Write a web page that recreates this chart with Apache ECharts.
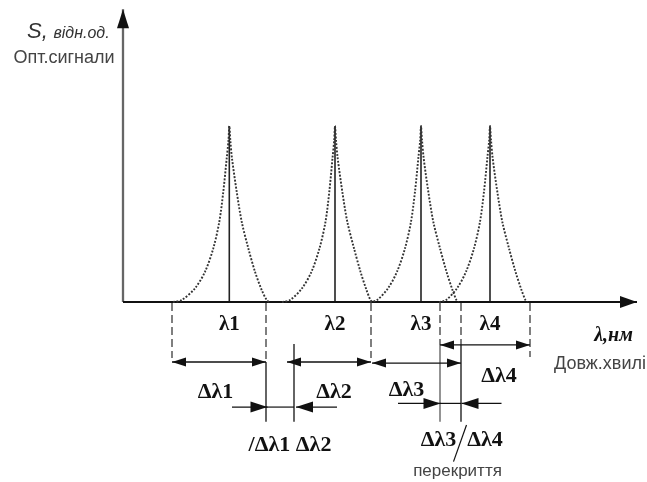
<!DOCTYPE html>
<html>
<head>
<meta charset="utf-8">
<script src="https://cdn.jsdelivr.net/npm/echarts@6/dist/echarts.min.js"></script>
<style>
html, body { margin: 0; padding: 0; background: #fff; }
#chart { width: 647px; height: 482px; }
</style>
</head>
<body>
<div id="chart"></div>
<script>
// x: wavelength (arb. units), y: relative signal (peak = 100)
const peakNames = ['λ1', 'λ2', 'λ3', 'λ4'];
const peakX = [21.26, 42.4, 59.6, 73.4];
const peakTop = 100;

// dotted spectra of the four channels
const spectrum1 = [[10.0,0],[11.74,1.1],[14.4,7.8],[16.4,17.2],[18.06,30.5],[19.26,45.6],[20.06,62.7],[20.74,81.6],[21.1,92],[21.26,100],
  [21.46,92],[21.8,81.6],[22.74,62.7],[23.74,45.6],[25.06,30.5],[26.4,17.2],[27.74,6.8],[28.74,1.1],[29.2,0]];
const spectrum2 = [[31.8,0],[33.4,1.1],[35.8,7.8],[37.7,17.2],[39.3,30.5],[40.5,45.6],[41.26,62.7],[41.9,81.6],[42.24,92],[42.4,100],
  [42.6,92],[42.94,81.6],[43.86,62.7],[44.86,45.6],[46.2,30.5],[47.5,17.2],[48.7,6.8],[49.5,1.1],[49.9,0]];
const spectrum3 = [[49.4,0],[50.8,1.1],[53.0,7.8],[54.8,17.2],[56.4,30.5],[57.6,45.6],[58.4,62.7],[59.06,81.6],[59.44,92],[59.6,100],
  [59.8,92],[60.14,81.6],[61.06,62.7],[62.06,45.6],[63.4,30.5],[64.7,17.2],[65.9,6.8],[66.7,1.1],[67.1,0]];
const spectrum4 = [[63.2,0],[64.6,1.1],[66.8,7.8],[68.6,17.2],[70.2,30.5],[71.4,45.6],[72.2,62.7],[72.86,81.6],[73.24,92],[73.4,100],
  [73.6,92],[73.94,81.6],[74.86,62.7],[75.86,45.6],[77.2,30.5],[78.5,17.2],[79.7,6.8],[80.5,1.1],[80.9,0]];

// axes [x1, y1, x2, y2]
const sAxis = [[0, 0, 0, 166.3]];
const lambdaAxis = [[0, 0, 102.8, 0]];

// channel borders below the axis
const dashedX = [9.8, 28.6, 49.6, 63.4, 67.6, 81.4];
const dashedBottom = [-31.8, -34.1, -31.8, -24.4, -24.4, -31.25];
const borderBlack = [[28.6, -34.1, 28.6, -68], [34.2, -23.9, 34.2, -68], [67.6, -24.4, 67.6, -68]];
const borderGrey = [[63.4, -24.4, 63.4, -68]];

// channel widths (double arrows) and gaps / overlaps (single arrows)
const widthArrows = [[9.8, -34.1, 28.6, -34.1], [32.8, -34.1, 49.6, -34.1], [49.8, -34.7, 67.6, -34.7], [63.4, -24.4, 81.4, -24.4]];
const pointArrows = [[21.8, -59.7, 28.9, -59.7], [42.8, -59.7, 34.6, -59.7], [55.0, -57.6, 63.5, -57.6], [75.7, -57.6, 67.7, -57.6]];
const connectors = [[28.6, -59.7, 34.2, -59.7], [63.4, -57.6, 67.6, -57.6], [68.7, -69.9, 66.1, -90.7]];

// texts
const dimNames = ['Δλ1', 'Δλ2', 'Δλ3', 'Δλ4', '/Δλ1 Δλ2', 'Δλ3', 'Δλ4'];
const dimX = [18.5, 42.2, 56.7, 75.2, 33.4, 63.1, 72.4];
const dimY = [-51.4, -51.1, -50.0, -42.3, -81.5, -78.7, -78.7];
const noteNames = ['Опт.сигнали', 'Довж.хвилі', 'перекриття'];
const noteX = [-11.8, 95.4, 66.9];
const noteY = [138.4, -35.2, -96.0];

function segSeries(segs, heads, color, lw, dash, headW, headL, headColor) {
  return {
    type: 'custom', coordinateSystem: 'cartesian2d', silent: true, clip: false,
    data: segs,
    renderItem: (params, api) => {
      const a = api.coord([api.value(0), api.value(1)]);
      const b = api.coord([api.value(2), api.value(3)]);
      const kids = [{ type: 'line', shape: { x1: a[0], y1: a[1], x2: b[0], y2: b[1] },
        style: { stroke: color, lineWidth: lw, lineDash: dash || null } }];
      const head = (tip, from) => {
        const dx = tip[0] - from[0], dy = tip[1] - from[1];
        const L = Math.hypot(dx, dy), ux = dx / L, uy = dy / L;
        const bx = tip[0] - ux * headL, by = tip[1] - uy * headL;
        return { type: 'polygon', shape: { points: [tip, [bx - uy * headW / 2, by + ux * headW / 2], [bx + uy * headW / 2, by - ux * headW / 2]] },
          style: { fill: headColor || color } };
      };
      if (heads === 'both') kids.push(head(a, b));
      if (heads === 'both' || heads === 'end') kids.push(head(b, a));
      return { type: 'group', children: kids };
    }
  };
}

function textSeries(names, xs, ys, font, color) {
  return {
    type: 'custom', coordinateSystem: 'cartesian2d', silent: true, clip: false,
    data: xs.map((x, i) => [x, ys[i]]),
    renderItem: (params, api) => {
      const p = api.coord([api.value(0), api.value(1)]);
      return { type: 'text', x: p[0], y: p[1],
        style: { text: names[params.dataIndex], font: font, fill: color, align: 'center', verticalAlign: 'middle' } };
    }
  };
}

function curve(data) {
  return { type: 'line', data: data, showSymbol: false, smooth: 0.3, silent: true,
    lineStyle: { color: '#333', width: 1.9, type: [1.9, 1.6] } };
}

const chart = echarts.init(document.getElementById('chart'));
chart.setOption({
  backgroundColor: '#fff',
  animation: false,
  grid: { left: 0, right: 0, top: 0, bottom: 0 },
  xAxis: { type: 'value', min: -24.6, max: 104.8, show: false },
  yAxis: { type: 'value', min: -102.27, max: 171.59, show: false },
  series: [
    curve(spectrum1), curve(spectrum2), curve(spectrum3), curve(spectrum4),
    segSeries(peakX.map(x => [x, 0, x, peakTop]), 'none', '#222', 1.6),
    segSeries(dashedX.map((x, i) => [x, -0.5, x, dashedBottom[i]]), 'none', '#555', 1.5, [8, 4]),
    segSeries(borderBlack, 'none', '#111', 1.3),
    segSeries(borderGrey, 'none', '#888', 1.8),
    segSeries(connectors, 'none', '#111', 1.2),
    segSeries(widthArrows, 'both', '#111', 1.3, null, 9, 14),
    segSeries(pointArrows, 'end', '#111', 1.3, null, 11, 17),
    segSeries(sAxis, 'end', '#666', 2.3, null, 12, 19, '#111'),
    segSeries(lambdaAxis, 'end', '#111', 1.8, null, 12, 17),
    textSeries(peakNames, peakX, peakNames.map(() => -13.1), 'bold 21px "Liberation Serif"', '#111'),
    textSeries(dimNames, dimX, dimY, 'bold 22px "Liberation Serif"', '#111'),
    textSeries(noteNames.slice(0, 2), noteX.slice(0, 2), noteY.slice(0, 2), '18px "Liberation Sans"', '#444'),
    textSeries(noteNames.slice(2), noteX.slice(2), noteY.slice(2), '17px "Liberation Sans"', '#444'),
    textSeries(['λ,нм'], [98.1], [-19.3], 'italic bold 20px "Liberation Serif"', '#111'),
    textSeries(['S,'], [-17.1], [153.4], 'italic 22px "Liberation Sans"', '#333'),
    textSeries(['відн.од.'], [-8.3], [152.6], 'italic 16px "Liberation Sans"', '#333')
  ]
});
</script>
</body>
</html>
